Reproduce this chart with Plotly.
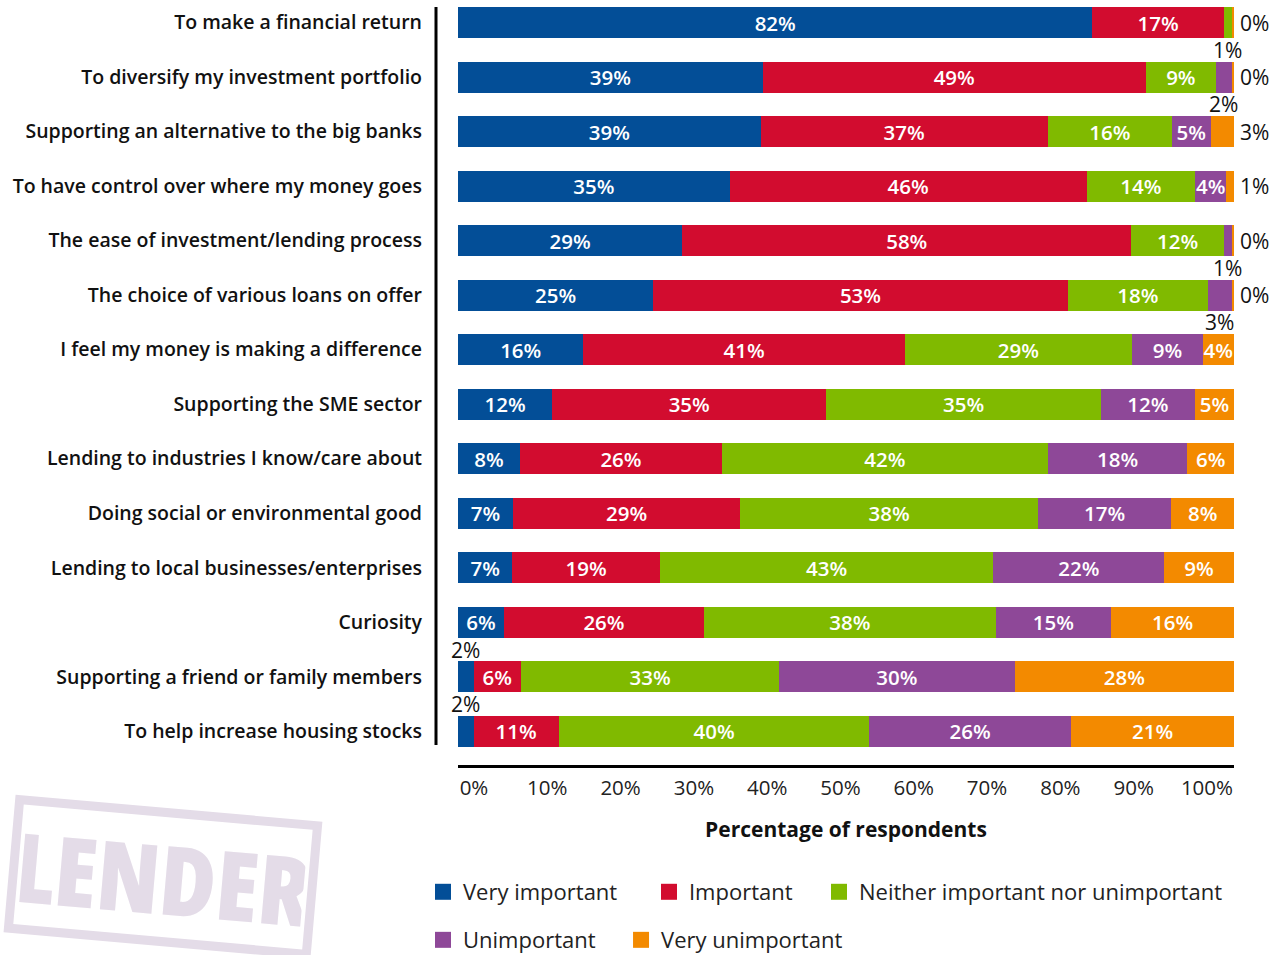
import plotly.graph_objects as go

categories = [
    "To make a financial return",
    "To diversify my investment portfolio",
    "Supporting an alternative to the big banks",
    "To have control over where my money goes",
    "The ease of investment/lending process",
    "The choice of various loans on offer",
    "I feel my money is making a difference",
    "Supporting the SME sector",
    "Lending to industries I know/care about",
    "Doing social or environmental good",
    "Lending to local businesses/enterprises",
    "Curiosity",
    "Supporting a friend or family members",
    "To help increase housing stocks",
]

very_important = [82, 39, 39, 35, 29, 25, 16, 12, 8, 7, 7, 6, 2, 2]
important = [17, 49, 37, 46, 58, 53, 41, 35, 26, 29, 19, 26, 6, 11]
neither = [1, 9, 16, 14, 12, 18, 29, 35, 42, 38, 43, 38, 33, 40]
unimportant = [0, 2, 5, 4, 1, 3, 9, 12, 18, 17, 22, 15, 30, 26]
very_unimportant = [0.3, 0.3, 3, 1, 0.3, 0.3, 4, 5, 6, 8, 9, 16, 28, 21]

series_names = ["Very important", "Important", "Neither important nor unimportant",
                "Unimportant", "Very unimportant"]
series_values = [very_important, important, neither, unimportant, very_unimportant]
colors = ["#034E97", "#D20C2F", "#80BA00", "#8E4898", "#F38A00"]

x_tick_values = [0, 10, 20, 30, 40, 50, 60, 70, 80, 90, 100]
x_tick_labels = ["0%", "10%", "20%", "30%", "40%", "50%", "60%", "70%", "80%", "90%", "100%"]

# (row, series, placement) for labels drawn outside the bar
outside_labels = [
    (0, 2, "below"), (0, 4, "right"),
    (1, 3, "below"), (1, 4, "right"),
    (2, 4, "right"), (3, 4, "right"),
    (4, 3, "below"), (4, 4, "right"),
    (5, 3, "below"), (5, 4, "right"),
    (12, 0, "above"), (13, 0, "above"),
]

# legend entry placement (paper x, paper y), one legend box per series
legend_pos = [(-0.0451, -0.166), (0.2461, -0.166), (0.4652, -0.166),
              (-0.0451, -0.2288), (0.2101, -0.2288)]

FONT = "Open Sans"
outside_set = {(r, s) for r, s, _ in outside_labels}

fig = go.Figure()
for s, (name, vals, col) in enumerate(zip(series_names, series_values, colors)):
    texts = []
    for r, v in enumerate(vals):
        if (r, s) in outside_set or round(v) == 0:
            texts.append("")
        else:
            texts.append(f"{round(v)}%")
    fig.add_trace(go.Bar(
        y=categories, x=vals, orientation="h", name=name,
        marker=dict(color=col, line=dict(width=0)),
        text=texts, textposition="inside", insidetextanchor="middle",
        textangle=0, constraintext="none",
        textfont=dict(family=FONT, size=20.5, color="white", weight=600),
        showlegend=False, hoverinfo="skip",
    ))

# legend entries
legend_layout = {}
for s, (name, col) in enumerate(zip(series_names, colors)):
    key = "legend" if s == 0 else f"legend{s + 1}"
    fig.add_trace(go.Scatter(
        x=[None], y=[None], mode="markers", name=name,
        marker=dict(symbol="square", size=20, color=col),
        legend=key, showlegend=True,
    ))
    lx, ly = legend_pos[s]
    legend_layout[key] = dict(orientation="h", x=lx, y=ly, xanchor="left", yanchor="middle",
                              font=dict(family=FONT, size=22, color="#222"),
                              itemsizing="trace", bgcolor="rgba(0,0,0,0)")

# invisible trace to carry the tick-label axis
fig.add_trace(go.Scatter(x=[0, 100], y=[categories[0], categories[0]], xaxis="x2",
                         mode="markers", marker=dict(opacity=0), showlegend=False,
                         hoverinfo="skip"))

# outside labels computed from normalised data
totals = [sum(sv[r] for sv in series_values) for r in range(len(categories))]
for r, s, place in outside_labels:
    start = sum(series_values[k][r] for k in range(s)) / totals[r] * 100
    end = start + series_values[s][r] / totals[r] * 100
    txt = f"{round(series_values[s][r])}%"
    lab_font = dict(family=FONT, size=21, color="#111", weight=500)
    if place == "right":
        fig.add_annotation(x=100, y=categories[r], text=txt, xanchor="left", xshift=4,
                           showarrow=False, font=lab_font)
    else:
        fig.add_annotation(x=(start + end) / 2, y=categories[r], text=txt, xanchor="center",
                           yshift=-27 if place == "below" else 27, showarrow=False,
                           font=lab_font)

# watermark
fig.add_annotation(x=-0.38, y=-0.146, xref="paper", yref="paper",
                   text='<span style="font-stretch:condensed">LENDER</span>',
                   xanchor="center", yanchor="middle",
                   showarrow=False, textangle=5, width=282, height=112,
                   font=dict(family="Open Sans, DejaVu Sans", size=96,
                             color="#E4DCE8", weight=800),
                   bordercolor="#E4DCE8", borderwidth=9, borderpad=4)

# vertical axis line
fig.add_shape(type="line", xref="paper", yref="paper", x0=-0.02835, x1=-0.02835,
              y0=0.026, y1=0.991, line=dict(color="black", width=3))

fig.update_layout(
    width=1286, height=955,
    margin=dict(l=458, r=52, t=0, b=190, autoexpand=False),
    barmode="stack", barnorm="percent", bargap=0.431,
    plot_bgcolor="white", paper_bgcolor="white",
    font=dict(family=FONT, color="#111"),
    xaxis=dict(range=[0, 100], showline=True, linewidth=3, linecolor="black",
               showticklabels=False, showgrid=False, zeroline=False, ticks="",
               title=dict(text="Percentage of respondents", standoff=56,
                          font=dict(family=FONT, size=21, weight="bold", color="#111"))),
    xaxis2=dict(overlaying="x", anchor="y", side="bottom", range=[-2.18, 103.69],
                tickvals=x_tick_values, ticktext=x_tick_labels, showgrid=False,
                zeroline=False, showline=False, ticks="", ticklabelstandoff=8,
                tickfont=dict(family=FONT, size=20.5, color="#222")),
    yaxis=dict(type="category", categoryorder="array", categoryarray=categories,
               range=[13.619, -0.4127], showgrid=False, zeroline=False, showline=False,
               ticks="", ticklabelstandoff=35,
               tickfont=dict(family=FONT, size=19.5, weight=600, color="#111")),
    **legend_layout,
)

fig.write_html("out.html", post_script="document.body.style.margin='0';",
               config={"displayModeBar": False})
